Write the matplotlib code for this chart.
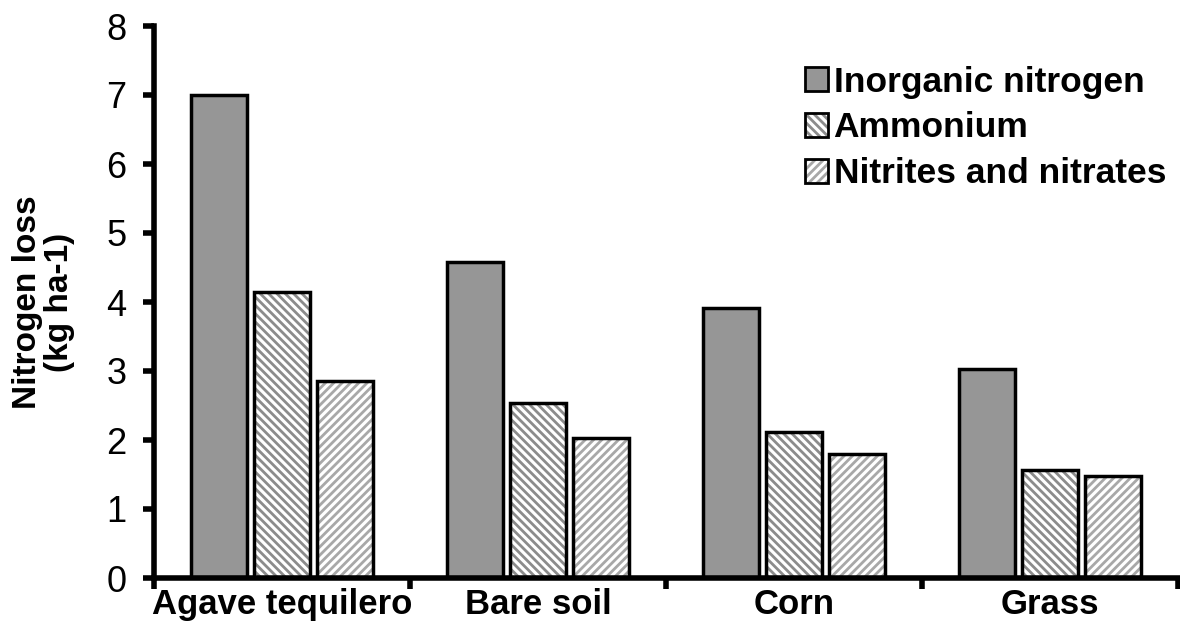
import numpy as np
import matplotlib
matplotlib.use("Agg")
import matplotlib.pyplot as plt
from matplotlib.patches import Patch
from matplotlib.legend_handler import HandlerTuple

plt.rcParams['font.family'] = ['Liberation Sans', 'DejaVu Sans']
plt.rcParams['hatch.linewidth'] = 2.0

crops = ["Agave tequilero", "Bare soil", "Corn", "Grass"]
series = ["Inorganic nitrogen", "Ammonium", "Nitrites and nitrates"]
inorganic = [7.0, 4.58, 3.92, 3.03]
ammonium = [4.15, 2.54, 2.12, 1.56]
nitrites = [2.85, 2.03, 1.80, 1.48]

fig = plt.figure(figsize=(11.8, 6.25), dpi=100)
ax = fig.add_axes([154 / 1180, 47 / 625, 1024 / 1180, 552 / 625])

x = np.arange(len(crops))
w = 0.22
step = 0.245

# solid gray bar
ax.bar(x - step, inorganic, w, color="#969696", edgecolor="black", linewidth=2.5, zorder=2)
# hatched bars: gray stripes first, black outline on top
ax.bar(x, ammonium, w, color="white", edgecolor="#8c8c8c", hatch="\\\\\\\\", linewidth=0, zorder=2)
ax.bar(x, ammonium, w, fill=False, edgecolor="black", linewidth=2.5, zorder=3)
ax.bar(x + step, nitrites, w, color="white", edgecolor="#a8a8a8", hatch="////", linewidth=0, zorder=2)
ax.bar(x + step, nitrites, w, fill=False, edgecolor="black", linewidth=2.5, zorder=3)

ax.set_xlim(-0.5, 3.5)
ax.set_ylim(0, 8)
ax.set_yticks(range(0, 9))
ax.tick_params(axis="y", labelsize=26, width=4, length=8, direction="out", pad=12)

ax.set_xticks(np.arange(-0.5, 4.0, 1.0))
ax.set_xticklabels([])
ax.tick_params(axis="x", width=4, length=8, direction="out")
ax.set_xticks(x, minor=True)
ax.set_xticklabels(crops, minor=True, fontsize=25, fontweight="bold")
ax.tick_params(axis="x", which="minor", length=0, pad=7)

for s in ["top", "right"]:
    ax.spines[s].set_visible(False)
ax.spines["left"].set_linewidth(4)
ax.spines["bottom"].set_linewidth(4)

ax.set_ylabel("Nitrogen loss\n(kg ha-1)", fontsize=24, fontweight="bold", labelpad=22,
              linespacing=1.05)

outline = dict(fill=False, edgecolor="black", linewidth=2)
handles = [
    Patch(facecolor="#969696", edgecolor="black", linewidth=2),
    (Patch(facecolor="white", edgecolor="#8c8c8c", hatch="\\\\\\\\", linewidth=0), Patch(**outline)),
    (Patch(facecolor="white", edgecolor="#a8a8a8", hatch="////", linewidth=0), Patch(**outline)),
]
leg = ax.legend(handles, series, loc="upper left", bbox_to_anchor=(0.636, 0.928),
                frameon=False, prop={"size": 25.5, "weight": "bold"},
                handler_map={tuple: HandlerTuple(ndivide=1, pad=0)},
                handlelength=0.65, handleheight=0.65, handletextpad=0.15,
                labelspacing=0.36, borderaxespad=0, borderpad=0)

fig.savefig("out.png", dpi=100)
